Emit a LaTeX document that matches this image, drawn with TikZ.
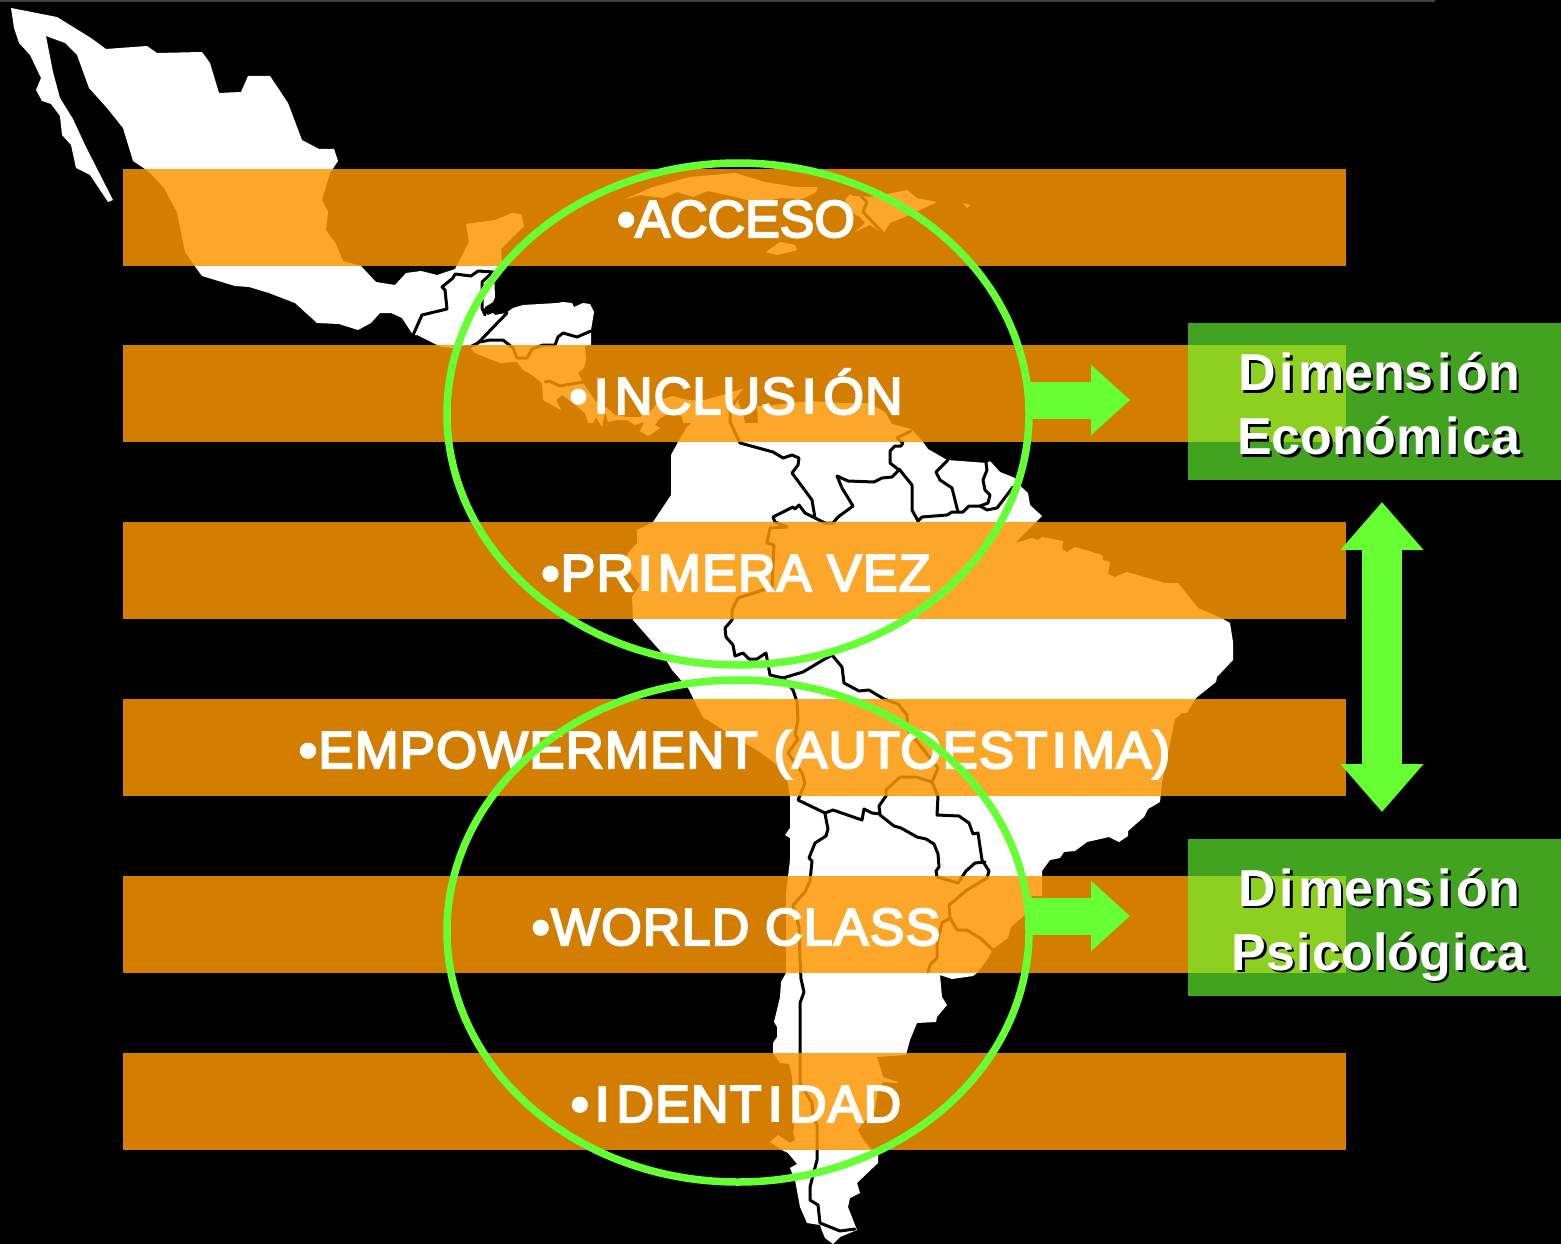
\documentclass[tikz,border=0pt]{standalone}
\usepackage{fontspec}
\usetikzlibrary{arrows.meta,shapes.geometric}
\setmainfont{Liberation Sans}
\newfontfamily\bandfont[FakeBold=4,LetterSpace=2.3]{Liberation Sans}
\newfontfamily\tightfont[FakeBold=4]{Liberation Sans}
\newfontfamily\dimfont{Liberation Sans Bold}
\newcommand{\wI}[1][6.5pt]{{\dimfont\kern#1 I\kern#1 }}
\newcommand{\gapped}[2]{\kern#1 #2\kern#1 }
\newcommand{\shadowed}[1]{\rlap{\kern2.5pt\raisebox{-2.5pt}{\color{black}#1}}#1}
\definecolor{bandorange}{HTML}{FC9700}
\definecolor{lime}{HTML}{66FF33}
\tikzset{
  land/.style={fill=white,draw=none},
  isle/.style={fill=white,draw=none},
  frontier/.style={draw=black,line width=3pt,line join=round,line cap=round},
  band/.style={rectangle,minimum width=1223pt,minimum height=97pt,inner sep=0pt,
    text height=41pt,text depth=0pt,
    fill=bandorange,fill opacity=.84,text opacity=1,text=white,
    font=\bandfont\fontsize{52}{60}\selectfont},
  dimbox/.style={rectangle,minimum width=373pt,minimum height=157pt,inner sep=0pt,
    fill=lime,fill opacity=.64},
  dimtext/.style={text=white,align=center,inner sep=0pt,
    font=\dimfont\fontsize{52}{64}\selectfont},
  ring/.style={ellipse,draw=lime,line width=7.5pt,minimum width=582pt,minimum height=502pt,inner sep=0pt},
  blockarrow/.style={draw=lime,line width=37pt,-{Triangle[width=68pt,length=39pt,fill=lime]}},
  tallarrow/.style={draw=lime,line width=40pt,{Triangle[width=80pt,length=48pt,fill=lime]}-{Triangle[width=80pt,length=48pt,fill=lime]}}
}
\begin{document}
\begin{tikzpicture}[x=1pt,y=-1pt]
\useasboundingbox (0,0) rectangle (1561,1244);
\fill[black] (0,0) rectangle (1561,1244);
\fill[black!75] (0,0) rectangle (1435,2);
% Mexico, Central and South America
\path[land] (11,8)--(57,17)--(91,38)--(106,49)--(147,46)--(157,53)--(202,52)--(210,63)--(219,93)--(241,92)--(248,76)--(270,76)--(288,103)--(302,140)--(319,149)--(334,149)--(338,161)--(330,173)--(322,200)--(328,212)--(326,230)--(336,244)--(343,261)--(361,266)--(376,282)--(395,285)--(406,273)--(421,271)--(437,275)--(455,269)--(469,242)--(466,224)--(495,220)--(512,213)--(521,214)--(524,226)--(501,249)--(502,266)--(494,272)--(495,297)--(493,302)--(485,307)--(483,312)--(488,315)--(493,313)--(495,315)--(506,313)--(513,308)--(523,305)--(557,303)--(563,302)--(572,303)--(574,307)--(583,303)--(590,304)--(594,312)--(591,330)--(591,345)--(585,346)--(586,360)--(584,368)--(578,373)--(583,383)--(590,393)--(596,402)--(607,408)--(615,415)--(627,417)--(640,417)--(650,412)--(660,400)--(672,396)--(688,400)--(701,401)--(726,394)--(745,388)--(738,402)--(743,413)--(745,423)--(758,423)--(757,406)--(775,405)--(810,401)--(840,403)--(869,403)--(885,412)--(892,424)--(911,429)--(923,442)--(928,449)--(947,460)--(987,463)--(990,461)--(1000,472)--(1015,478)--(1017,483)--(1028,493)--(1030,505)--(1042,516)--(1015,543)--(1032,538)--(1038,540)--(1042,537)--(1063,541)--(1062,549)--(1067,552)--(1075,547)--(1102,555)--(1103,560)--(1110,562)--(1108,574)--(1115,577)--(1127,572)--(1165,583)--(1178,583)--(1190,598)--(1198,608)--(1223,619)--(1230,623)--(1233,642)--(1233,660)--(1217,677)--(1216,682)--(1196,698)--(1187,713)--(1182,713)--(1175,719)--(1162,782)--(1160,802)--(1148,809)--(1144,817)--(1128,831)--(1128,836)--(1119,842)--(1109,837)--(1087,842)--(1075,851)--(1064,852)--(1060,858)--(1050,860)--(1042,871)--(1042,896)--(1032,896)--(1027,913)--(1011,927)--(1008,938)--(993,949)--(987,960)--(977,973)--(973,976)--(952,979)--(940,975)--(942,997)--(947,1005)--(937,1017)--(936,1022)--(917,1023)--(910,1040)--(906,1055)--(877,1057)--(882,1073)--(883,1077)--(898,1082)--(896,1083)--(883,1082)--(878,1090)--(875,1110)--(863,1123)--(858,1130)--(862,1138)--(870,1148)--(878,1153)--(878,1163)--(857,1183)--(860,1193)--(850,1198)--(848,1207)--(857,1230)--(840,1237)--(833,1244)--(825,1238)--(822,1231)--(820,1225)--(807,1223)--(800,1207)--(795,1180)--(790,1168)--(797,1164)--(788,1153)--(782,1150)--(770,1142)--(778,1135)--(790,1143)--(795,1140)--(793,1132)--(795,1122)--(792,1077)--(789,1064)--(780,1063)--(773,1053)--(773,1043)--(777,1037)--(777,1027)--(774,1022)--(780,997)--(781,982)--(786,973)--(786,893)--(788,877)--(790,860)--(790,838)--(785,835)--(790,828)--(790,797)--(788,783)--(780,767)--(760,752)--(743,742)--(720,728)--(703,717)--(695,702)--(688,688)--(672,670)--(662,653)--(633,620)--(632,597)--(640,585)--(625,565)--(628,553)--(637,543)--(637,530)--(653,522)--(671,495)--(671,455)--(678,442)--(687,427)--(698,417)--(692,423)--(683,423)--(682,417)--(672,412)--(660,418)--(655,425)--(660,428)--(653,433)--(648,436)--(640,431)--(644,422)--(635,425)--(627,420)--(617,420)--(608,422)--(605,412)--(602,427)--(596,417)--(593,423)--(588,423)--(585,413)--(573,403)--(562,395)--(556,400)--(561,410)--(543,400)--(542,383)--(532,375)--(523,370)--(517,362)--(500,363)--(475,353)--(468,345)--(453,348)--(441,347)--(417,335)--(413,335)--(402,318)--(391,313)--(380,313)--(371,323)--(358,330)--(339,324)--(317,323)--(295,303)--(269,293)--(249,287)--(235,286)--(202,276)--(194,265)--(185,252)--(177,212)--(164,188)--(148,171)--(133,161)--(123,128)--(107,108)--(89,88)--(77,55)--(65,43)--(46,36)--(53,72)--(60,98)--(73,119)--(85,145)--(113,200)--(108,202)--(90,175)--(76,168)--(71,145)--(62,135)--(60,116)--(51,104)--(42,101)--(36,90)--(41,78)--(30,55)--(19,43)--(14,28)--cycle;
% Caribbean islands
\path[isle] (625,199)--(653,187)--(690,177)--(735,173)--(765,182)--(795,187)--(818,187)--(815,193)--(802,199)--(780,198)--(760,203)--(735,197)--(708,191)--(693,197)--(677,192)--(663,198)--(640,195)--cycle;
\path[isle] (766,252)--(780,242)--(795,245)--(797,250)--(777,255)--cycle;
\path[isle] (845,200)--(850,194)--(860,195)--(867,197)--(883,195)--(907,190)--(917,198)--(937,202)--(905,217)--(890,223)--(883,234)--(870,225)--(855,232)--(865,223)--(860,217)--(853,213)--cycle;
\path[isle] (963,203)--(970,205)--(967,208)--cycle;
% frontiers
\draw[frontier] (852,194)--(860,195)--(867,202)--(863,212)--(883,233);
\draw[frontier] (413,335)--(422,315)--(447,309)--(445,290)--(442,287)--(453,278)--(455,274)--(471,276)--(478,271)--(493,272)--(482,282)--(482,308)--(485,315);
\draw[frontier] (507,313)--(478,343)--(470,347);
\draw[frontier] (480,342)--(490,340)--(503,340)--(513,348)--(517,358)--(527,358)--(532,349)--(543,345)--(555,345)--(558,337)--(563,333)--(577,337)--(591,331);
\draw[frontier] (545,382)--(549,381)--(560,386)--(577,383)--(583,382);
\draw[frontier] (745,389)--(730,408)--(730,422)--(740,443)--(773,452)--(783,458)--(792,455)--(799,458)--(798,465)--(792,473)--(812,500)--(815,518)--(825,523)--(833,523)--(838,517)--(853,506)--(842,488)--(837,476)--(848,481)--(874,482)--(882,478)--(892,477)--(899,470)--(890,463)--(890,451)--(895,446)--(901,446)--(903,443)--(897,438)--(911,431);
\draw[frontier] (899,469)--(912,485)--(912,510)--(918,521)--(922,517)--(947,515)--(952,512)--(963,512)--(969,506)--(980,506)--(988,503)--(990,495)--(985,490)--(983,480)--(987,470)--(986,463);
\draw[frontier] (948,460)--(936,472)--(940,480)--(952,488)--(958,512);
\draw[frontier] (980,506)--(987,510)--(997,508)--(1013,487);
\draw[frontier] (815,518)--(805,513)--(799,505)--(795,509)--(793,507)--(773,517)--(775,522)--(787,527)--(770,528)--(767,543)--(774,545)--(772,587)--(763,590)--(738,598)--(732,610)--(732,620)--(725,628)--(726,637)--(733,645)--(735,656)--(743,653)--(749,659)--(757,659)--(766,653)--(770,675)--(783,678)--(793,690)--(797,702)--(798,720)--(795,735)--(798,739)--(788,753)--(802,773)--(805,783)--(798,800)--(825,813)--(833,810)--(862,820)--(864,809)--(872,813)--(880,814)--(879,806)--(886,796)--(886,790)--(900,777)--(916,777)--(932,782)--(938,768)--(907,729)--(907,715)--(898,704)--(884,699)--(869,690)--(859,691)--(844,683)--(842,667)--(832,655);
\draw[frontier] (783,678)--(803,672)--(823,660)--(832,655);
\draw[frontier] (932,782)--(938,796)--(937,815)--(959,816)--(969,823)--(973,834)--(978,833)--(982,860)--(989,871)--(987,878)--(967,890)--(949,905)--(950,918)--(942,923)--(937,943)--(937,958)--(930,965)--(928,972);
\draw[frontier] (880,815)--(894,826)--(901,828)--(917,837)--(926,839)--(934,844)--(938,854)--(939,867)--(936,871)--(937,877)--(958,883)--(966,871)--(975,863)--(985,862);
\draw[frontier] (950,918)--(957,930)--(967,930)--(980,938)--(993,950);
\draw[frontier] (825,814)--(828,829)--(826,836)--(815,843)--(809,858)--(812,861)--(810,881)--(805,892)--(793,905)--(799,927)--(800,960)--(801,979)--(804,992)--(800,1003)--(800,1083)--(812,1103)--(813,1115)--(817,1125)--(817,1160)--(810,1187)--(810,1200)--(818,1205)--(820,1223)--(840,1231)--(855,1229);
% bands
\node[band] (acceso) at (734.5,217.5) {\kern3pt\tightfont\raisebox{1pt}{•ACCESO}};
\node[band] (inclusion) at (734.5,393.5) {\kern3pt•\wI{}NCLUS\wI{}ÓN};
\node[band] (primera) at (734.5,570.5) {\kern3pt•PR\wI[4.5pt]{}MERA VEZ};
\node[band] (empower) at (734.5,747.5) {\scalebox{1.013}[1]{•EMPOWERMENT (AUTOEST\wI[4.5pt]{}MA)}};
\node[band] (world) at (734.5,924.5) {\kern3pt•WORLD CLASS};
\node[band] (identidad) at (734.5,1101.5) {\kern3pt•\wI{}DENT\wI{}DAD};
% dimension boxes
\node[dimbox] (boxeco) at (1374.5,401.5) {};
\node[dimbox] (boxpsi) at (1374.5,917.5) {};
\node[dimtext] (texteco) at (1379,405) {\shadowed{D\gapped{4pt}{i}mens\gapped{4pt}{i}ón}\\\shadowed{Económ\gapped{3pt}{i}ca}};
\node[dimtext] (textpsi) at (1379,926) {\shadowed{D\gapped{4pt}{i}mens\gapped{4pt}{i}ón}\\\shadowed{Ps\gapped{1.5pt}{i}cológ\gapped{1.5pt}{i}ca}};
% rings
\node[ring] (ringtop) at (738,414) {};
\node[ring] (ringbot) at (738,931) {};
% arrows
\coordinate (tipeco) at (1130,400);
\coordinate (tippsi) at (1130,916);
\coordinate (tallup) at (1382,502);
\coordinate (talldown) at (1382,812);
\draw[blockarrow] ([xshift=-6pt]ringtop.east |- tipeco) -- (tipeco);
\draw[blockarrow] ([xshift=-6pt]ringbot.east |- tippsi) -- (tippsi);
\draw[tallarrow] (tallup) -- (talldown);
\end{tikzpicture}
\end{document}
